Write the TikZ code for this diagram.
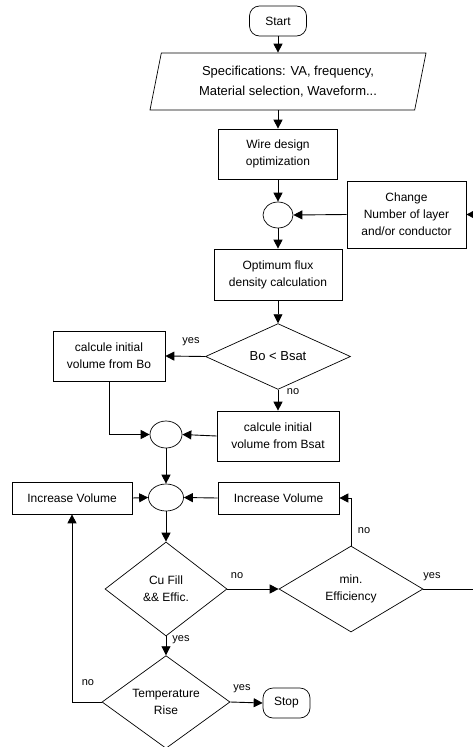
\documentclass[tikz,border=0pt]{standalone}
\usepackage{fontspec}
\setmainfont{Liberation Sans}
\usetikzlibrary{shapes.geometric,arrows.meta}

\begin{document}
\begin{tikzpicture}[x=1pt,y=-1pt,line width=0.9pt,
        font=\fontsize{12}{17}\selectfont,
        box/.style={draw,rectangle,align=center,inner sep=0pt,line width=0.7pt},
        term/.style={draw,rectangle,rounded corners=10pt,inner sep=0pt,minimum height=30pt,line width=0.7pt},
        io/.style={draw,trapezium,trapezium left angle=70,trapezium right angle=110,
            trapezium stretches body,align=center,inner sep=0pt,line width=0.7pt},
        test/.style={draw,diamond,align=center,inner sep=0pt,line width=0.7pt},
        junc/.style={draw,ellipse,inner sep=0pt,line width=0.7pt},
        lbl/.style={font=\fontsize{11}{13}\selectfont,inner sep=0pt},
        arr/.style={-{Triangle[length=9pt,width=9pt]}}]
                \useasboundingbox (0,0) rectangle (473,747);
                % main column
                \node[term,minimum width=57pt] (start) at (278,21) {Start};
                \node[io,minimum width=276pt,minimum height=57pt,font=\fontsize{13}{20}\selectfont] (spec) at (288,81.5)
                    {Specifications: VA, frequency,\\Material selection, Waveform...};
                \node[box,minimum width=119pt,minimum height=50pt] (wire) at (278,154) {Wire design\\optimization};
                \node[junc,minimum width=30pt,minimum height=26pt] (join1) at (278,215) {};
                \node[box,minimum width=119pt,minimum height=67pt] (change) at (406.5,214.5)
                    {Change\\Number of layer\\and/or conductor};
                \node[box,minimum width=128pt,minimum height=51pt] (optim) at (278,274.5)
                    {Optimum flux\\density calculation};
                \node[test,minimum width=145pt,minimum height=65pt,font=\fontsize{13}{17}\selectfont] (bocheck) at (278,356.5) {Bo < Bsat};
                \node[box,minimum width=112pt,minimum height=50pt] (bobox) at (109,356) {calcule initial\\volume from Bo};
                \node[box,minimum width=122pt,minimum height=50pt] (bsatbox) at (278,436) {calcule initial\\volume from Bsat};
                \node[junc,minimum width=32pt,minimum height=27pt] (join2) at (166,434.5) {};
                \node[junc,minimum width=35pt,minimum height=27pt] (join3) at (166,497.5) {};
                \node[box,minimum width=120pt,minimum height=32pt] (incl) at (72,498) {Increase Volume};
                \node[box,minimum width=121pt,minimum height=32pt] (incr) at (278.5,498) {Increase Volume};
                \node[test,minimum width=122pt,minimum height=94pt] (cufill) at (166,589) {Cu Fill\\\&\& Effic.};
                \node[test,minimum width=144pt,minimum height=86pt] (mineff) at (351,589) {min.\\Efficiency};
                \node[test,minimum width=128pt,minimum height=88pt] (temp) at (166,702) {Temperature\\Rise};
                \node[term,minimum width=47pt] (stop) at (286.5,703) {Stop};
                \coordinate (loopin) at (473,214.5);
                \coordinate (effout) at (473,589);
                % labels
                \node[lbl] (yes1) at (191,342) {yes};
                \node[lbl] (no1) at (293,392) {no};
                \node[lbl] (no2) at (237,576) {no};
                \node[lbl] (yes2) at (432,577) {yes};
                \node[lbl] (no3) at (364,531) {no};
                \node[lbl] (yes3) at (181,640) {yes};
                \node[lbl] (no4) at (88,683) {no};
                \node[lbl] (yes4) at (242,689) {yes};
                % connectors
                \draw[arr] (start.south) -- (start.south |- spec.north);
                \draw[arr] (wire.north |- spec.south) -- (wire.north);
                \draw[arr] (wire.south) -- (join1.north);
                \draw[arr] (change.west) -- (join1.east);
                \draw[arr] (loopin) -- (change.east);
                \draw[arr] (join1.south) -- (optim.north);
                \draw[arr] (optim.south) -- (bocheck.north);
                \draw[arr] (bocheck.west) -- (bobox.east);
                \draw[arr] (bocheck.south) -- (bsatbox.north);
                \draw[arr] (bobox.south) |- (join2.west);
                \draw[arr] (bsatbox.west) -- (join2.east);
                \draw[arr] (join2.south) -- (join3.north);
                \draw[arr] (incl.east) -- (join3.west);
                \draw[arr] (incr.west) -- (join3.east);
                \draw[arr] (join3.south) -- (cufill.north);
                \draw[arr] (cufill.east) -- (mineff.west);
                \draw[arr] (mineff.north) |- (incr.east);
                \draw (mineff.east) -- (effout);
                \draw[arr] (cufill.south) -- (temp.north);
                \draw[arr] (temp.west) -| (incl.south);
                \draw[arr] (temp.east) -- (stop.west);
\end{tikzpicture}
\end{document}
